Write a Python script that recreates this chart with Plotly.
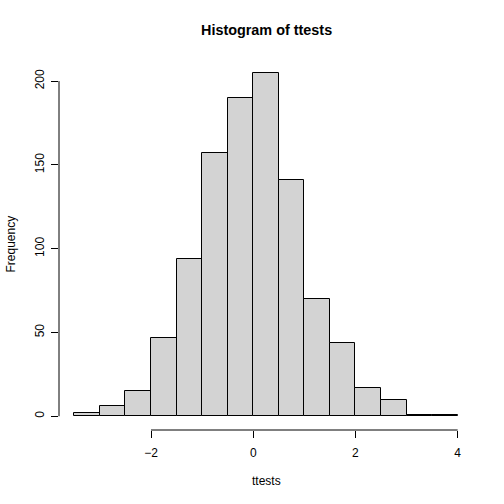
import plotly.graph_objects as go

# histogram of ttests: bin edges and counts
bin_edges = [-3.5, -3.0, -2.5, -2.0, -1.5, -1.0, -0.5, 0.0, 0.5, 1.0, 1.5, 2.0, 2.5, 3.0, 3.5, 4.0]
counts = [2, 6, 15, 47, 94, 157, 190, 205, 141, 70, 44, 17, 10, 1, 1]

x_ticks = [-2, 0, 2, 4]
y_ticks = [0, 50, 100, 150, 200]

centers = [(a + b) / 2 for a, b in zip(bin_edges[:-1], bin_edges[1:])]
widths = [b - a for a, b in zip(bin_edges[:-1], bin_edges[1:])]

# R pads the axis ranges by 4% on each side
x_pad = (bin_edges[-1] - bin_edges[0]) * 0.04
y_pad = max(counts) * 0.04

FONT = "Liberation Sans, Arial, sans-serif"

fig = go.Figure()
fig.add_trace(go.Bar(
    x=centers,
    y=counts,
    width=widths,
    marker=dict(color="#D3D3D3", line=dict(color="black", width=1)),
    hoverinfo="x+y",
))

fig.update_layout(
    width=504,
    height=504,
    margin=dict(l=59, r=31, t=59, b=74),
    plot_bgcolor="white",
    paper_bgcolor="white",
    showlegend=False,
    font=dict(family=FONT, size=12, color="black"),
    bargap=0,
)

fig.update_xaxes(
    range=[bin_edges[0] - x_pad, bin_edges[-1] + x_pad],
    tickvals=x_ticks,
    ticks="outside",
    ticklen=7,
    tickcolor="black",
    tickwidth=1,
    ticklabelstandoff=5,
    showgrid=False,
    zeroline=False,
    showline=False,
)
fig.update_yaxes(
    range=[-y_pad, max(counts) + y_pad],
    tickvals=y_ticks,
    tickangle=-90,
    ticks="outside",
    ticklen=7,
    tickcolor="black",
    tickwidth=1,
    ticklabelstandoff=2,
    showgrid=False,
    zeroline=False,
    showline=False,
)

# R-style axis lines only span first to last tick
fig.add_shape(type="line", xref="x", yref="paper",
              x0=x_ticks[0], x1=x_ticks[-1], y0=0, y1=0,
              line=dict(color="black", width=1))
fig.add_shape(type="line", xref="paper", yref="y",
              x0=0, x1=0, y0=y_ticks[0], y1=y_ticks[-1],
              line=dict(color="black", width=1))

fig.add_annotation(text="<b>Histogram of ttests</b>", xref="paper", yref="paper",
                   x=0.5, y=1, yshift=29, showarrow=False,
                   font=dict(family=FONT, size=14.4, color="black"), yanchor="middle")
fig.add_annotation(text="ttests", xref="paper", yref="paper",
                   x=0.5, y=0, yshift=-51, showarrow=False, yanchor="middle",
                   font=dict(color="black"))
fig.add_annotation(text="Frequency", xref="paper", yref="paper",
                   x=0, y=0.5, xshift=-49, textangle=-90, showarrow=False,
                   xanchor="center", font=dict(color="black"))

# drop the default 8px page margin so the figure sits at the window corner
fig.write_html("out.html", config={"displayModeBar": False},
               post_script="document.body.style.margin = '0';")
